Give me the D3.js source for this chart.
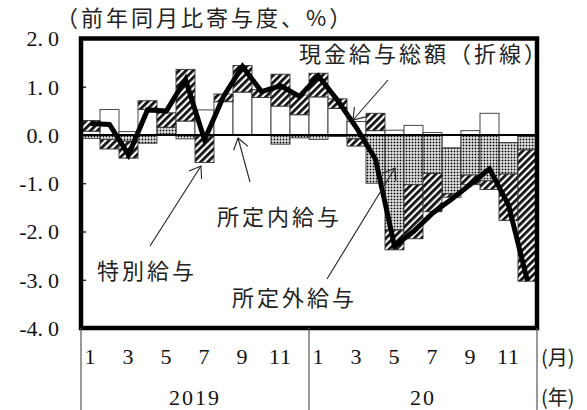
<!DOCTYPE html>
<html>
<head>
<meta charset="utf-8">
<script src="https://cdn.jsdelivr.net/npm/d3@7"></script>
<style>
  html, body { margin: 0; padding: 0; background: #fff; }
  svg { display: block; }
</style>
</head>
<body>
<svg id="chart" width="587" height="410"></svg>
<script>
// Monthly contributions to the year-on-year change in cash earnings (%pt), Jan 2019 – Dec 2020
const months = ["1","2","3","4","5","6","7","8","9","10","11","12",
                "1","2","3","4","5","6","7","8","9","10","11","12"];
const years = ["2019", "20"];

// 所定内給与 (scheduled earnings)
const scheduled = [0.08, 0.53, 0.07, 0.53, 0.00, 0.29, 0.52, 0.69, 0.89, 0.78, 0.60, 0.42,
                   0.79, 0.55, 0.28, 0.09, 0.10, 0.20, 0.05, -0.27, 0.09, 0.45, -0.16, -0.03];
// 所定外給与 (non-scheduled earnings)
const overtime  = [-0.07, -0.09, -0.13, -0.17, 0.16, -0.08, -0.02, 0.00, 0.00, 0.00, -0.19, -0.06,
                   -0.09, -0.03, -0.08, -1.00, -1.97, -1.03, -0.80, -0.95, -0.83, -0.95, -0.65, -0.28];
// 特別給与 (special earnings)
const special   = [0.22, -0.20, -0.35, 0.18, 0.30, 1.07, -0.55, 0.16, 0.55, 0.16, 0.66, 0.41,
                   0.49, 0.20, -0.15, 0.36, -0.41, -1.12, -0.79, -0.07, -0.20, -0.18, -0.96, -2.72];
// 現金給与総額 (total cash earnings, line)
const total     = [0.24, 0.22, -0.41, 0.52, 0.50, 1.15, -0.10, 0.80, 1.42, 0.90, 1.02, 0.80,
                   1.22, 0.72, 0.15, -0.50, -2.30, -2.00, -1.62, -1.33, -1.02, -0.70, -1.45, -3.03];

const yTicks = [2, 1, 0, -1, -2, -3, -4];

const svg = d3.select("#chart");
const W = 587, H = 410;
const plotL = 81, plotR = 537, plotT = 38.5, plotB = 328;

const x = d3.scaleBand().domain(d3.range(months.length)).range([plotL, plotR]).padding(0);
const y = d3.scaleLinear().domain([-4, 2]).range([plotB, plotT]);

const serif = "'Liberation Serif', 'DejaVu Serif', serif";
const jp = "'Noto Sans CJK JP', 'Noto Sans CJK SC', sans-serif";

// fill patterns
const defs = svg.append("defs");
const dots = defs.append("pattern").attr("id", "dots")
  .attr("patternUnits", "userSpaceOnUse").attr("width", 3).attr("height", 3);
dots.append("rect").attr("width", 3).attr("height", 3).attr("fill", "#fff");
dots.append("rect").attr("x", 0.6).attr("y", 0.6).attr("width", 1.8).attr("height", 1.8).attr("fill", "#000");

const hatch = defs.append("pattern").attr("id", "hatch")
  .attr("patternUnits", "userSpaceOnUse").attr("width", 5).attr("height", 5)
  .attr("patternTransform", "rotate(45)");
hatch.append("rect").attr("width", 5).attr("height", 5).attr("fill", "#fff");
hatch.append("rect").attr("width", 2.8).attr("height", 5).attr("fill", "#111");

// stacked bars (positives up, negatives down)
const rows = months.map((m, i) => ({ i, scheduled: scheduled[i], overtime: overtime[i], special: special[i] }));
const keys = ["scheduled", "overtime", "special"];
const fills = { scheduled: "#fff", overtime: "url(#dots)", special: "url(#hatch)" };
const series = d3.stack().keys(keys).offset(d3.stackOffsetDiverging)(rows);

svg.append("g").selectAll("g").data(series).join("g")
  .attr("fill", s => fills[s.key])
  .selectAll("rect").data(s => s).join("rect")
  .attr("x", d => x(d.data.i))
  .attr("width", x.bandwidth())
  .attr("y", d => y(Math.max(d[0], d[1])))
  .attr("height", d => Math.abs(y(d[0]) - y(d[1])))
  .attr("stroke", "#333").attr("stroke-width", 0.9);

// zero line
svg.append("line").attr("x1", plotL).attr("x2", plotR)
  .attr("y1", y(0)).attr("y2", y(0))
  .attr("stroke", "#000").attr("stroke-width", 2);

// total line
svg.append("path").datum(total)
  .attr("fill", "none").attr("stroke", "#000").attr("stroke-width", 5)
  .attr("stroke-linejoin", "miter").attr("stroke-miterlimit", 3)
  .attr("d", d3.line().x((d, i) => x(i) + x.bandwidth() / 2).y(d => y(d)));

// y axis with inward ticks; labels set as "2." + spaced last digit
const fmt = d => d3.format(".1f")(d).replace("\u2212", "-");
const yAxis = svg.append("g").attr("transform", `translate(${plotL},0)`)
  .call(d3.axisLeft(y).tickValues(yTicks).tickSize(-5).tickPadding(22).tickFormat(fmt));
yAxis.select(".domain").remove();
yAxis.selectAll(".tick line").attr("stroke", "#000").attr("stroke-width", 1.2);
yAxis.selectAll(".tick text")
  .attr("font-family", serif).attr("font-size", 22).attr("fill", "#111")
  .attr("dy", "0.34em")
  .each(function (d) {
    const s = fmt(d);
    const t = d3.select(this).text(null);
    t.append("tspan").text(s.slice(0, -1));
    t.append("tspan").attr("dx", 5).text(s.slice(-1));
  });

// frame
svg.append("rect").attr("x", plotL).attr("y", plotT)
  .attr("width", plotR - plotL).attr("height", plotB - plotT)
  .attr("fill", "none").attr("stroke", "#000").attr("stroke-width", 4.5);

// category axis: month labels, year labels, separators
const gx = svg.append("g");
gx.selectAll("text.m").data(months.map((m, i) => ({ m, i })).filter(d => (+d.m) % 2 === 1))
  .join("text").attr("class", "m")
  .attr("x", d => x(d.i) + x.bandwidth() / 2).attr("y", 364)
  .attr("text-anchor", "middle")
  .attr("font-family", serif).attr("font-size", 22).attr("fill", "#111")
  .attr("letter-spacing", "1px")
  .text(d => d.m);

const yearSpan = 12;
gx.selectAll("text.y").data(years).join("text").attr("class", "y")
  .attr("x", (d, k) => (x(k * yearSpan) + x(k * yearSpan + yearSpan - 1) + x.bandwidth()) / 2)
  .attr("y", 405)
  .attr("text-anchor", "middle")
  .attr("font-family", serif).attr("font-size", 22).attr("fill", "#111")
  .attr("letter-spacing", "2px")
  .text(d => d);

const seps = [plotL, x(yearSpan), plotR];
gx.selectAll("line.sep").data(seps).join("line").attr("class", "sep")
  .attr("x1", d => d).attr("x2", d => d)
  .attr("y1", plotB).attr("y2", H)
  .attr("stroke", "#555").attr("stroke-width", 1.2);

gx.append("text").attr("x", 541).attr("y", 356).attr("dominant-baseline", "central")
  .attr("font-family", jp).attr("font-size", 20).attr("fill", "#222").text("(月)");
gx.append("text").attr("x", 541).attr("y", 396).attr("dominant-baseline", "central")
  .attr("font-family", jp).attr("font-size", 20).attr("fill", "#222").text("(年)");

// unit caption
svg.append("text").attr("x", 56).attr("y", 16).attr("dominant-baseline", "central")
  .attr("font-family", jp).attr("font-size", 22).attr("fill", "#222")
  .attr("letter-spacing", "3px")
  .text("（前年同月比寄与度、%）");

// annotation labels
const notes = [
  { text: "現金給与総額（折線）", x: 299, y: 52 },
  { text: "所定内給与", x: 217, y: 215 },
  { text: "特別給与", x: 97, y: 269 },
  { text: "所定外給与", x: 232, y: 296 }
];
svg.append("g").selectAll("text").data(notes).join("text")
  .attr("x", d => d.x).attr("y", d => d.y).attr("dominant-baseline", "central")
  .attr("font-family", jp).attr("font-size", 22).attr("fill", "#222")
  .attr("letter-spacing", "3px")
  .text(d => d.text);

// leader arrows
const arrows = [
  { from: [150, 246], to: [201, 166] },
  { from: [250, 182], to: [238, 138] },
  { from: [327, 279], to: [395, 168] },
  { from: [388, 80],  to: [353, 120] }
];
const ga = svg.append("g").attr("stroke", "#222").attr("stroke-width", 1.1).attr("fill", "none");
arrows.forEach(a => {
  const [x0, y0] = a.from, [x1, y1] = a.to;
  ga.append("line").attr("x1", x0).attr("y1", y0).attr("x2", x1).attr("y2", y1);
  const ang = Math.atan2(y0 - y1, x0 - x1);
  const len = 13, spread = 35 * Math.PI / 180;
  const p1 = [x1 + len * Math.cos(ang - spread), y1 + len * Math.sin(ang - spread)];
  const p2 = [x1 + len * Math.cos(ang + spread), y1 + len * Math.sin(ang + spread)];
  ga.append("path").attr("d", `M${p1[0]},${p1[1]}L${x1},${y1}L${p2[0]},${p2[1]}`);
});
</script>
</body>
</html>
